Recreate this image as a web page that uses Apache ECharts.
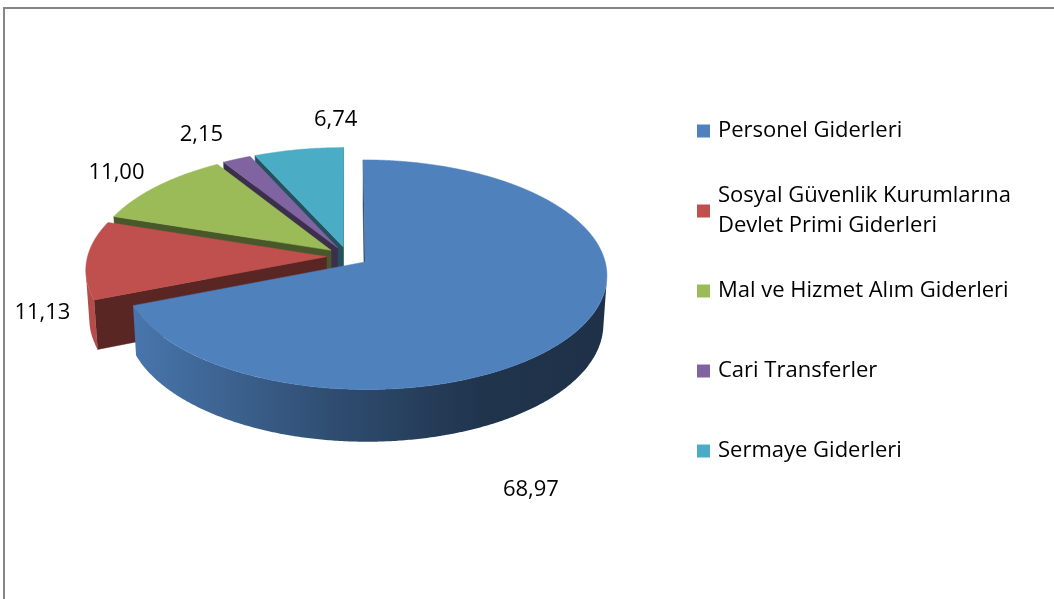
<!DOCTYPE html>
<html>
<head>
<meta charset="utf-8">
<script src="https://cdn.jsdelivr.net/npm/echarts@6/dist/echarts.min.js"></script>
<style>
  html, body { margin: 0; padding: 0; background: #fff; }
  #chart { width: 1054px; height: 599px; }
</style>
</head>
<body>
<div id="chart"></div>
<script>
// chart data
const names = [
    'Personel Giderleri',
    'Sosyal Güvenlik Kurumlarına\nDevlet Primi Giderleri',
    'Mal ve Hizmet Alım Giderleri',
    'Cari Transferler',
    'Sermaye Giderleri'
];
const values = [68.97, 11.13, 11.00, 2.15, 6.74];
const colors = ['#4f81bd', '#c0504d', '#9bbb59', '#8064a2', '#4bacc6'];

// 3d pie projection settings (pie radius = 1 in world units)
const CX = 347.5, CY = 256.4;
const FOCAL = 1916, DIST = 8.02;
const TILT = 28 * Math.PI / 180;
const SN = Math.sin(TILT), CS = Math.cos(TILT);
const THICK = 0.231;
const EXPLODE = 0.088;
const LABEL_R = 1.28;
// small pixel nudges so the labels sit where excel put them
const labelNudge = [[-112, 139], [23, 52], [4, 3], [-10, -2], [48, -6]];

const CAM_V = -DIST * CS;
const rad = d => d * Math.PI / 180;

function proj(u, v, w) {
    const Y = v * SN + w * CS;
    const Z = DIST + v * CS - w * SN;
    return [CX + FOCAL * u / Z, CY - FOCAL * Y / Z];
}

function shade(hex, f) {
    const n = parseInt(hex.slice(1), 16);
    const r = Math.round(((n >> 16) & 255) * f);
    const g = Math.round(((n >> 8) & 255) * f);
    const b = Math.round((n & 255) * f);
    return 'rgb(' + r + ',' + g + ',' + b + ')';
}

const total = values.reduce((a, b) => a + b, 0);
let acc = 0;
const slices = values.map(function (v) {
    const a0 = acc / total * 360;
    acc += v;
    const a1 = acc / total * 360;
    const mid = (a0 + a1) / 2;
    return {
        a0: a0, a1: a1, mid: mid,
        ex: EXPLODE * Math.sin(rad(mid)),
        ev: EXPLODE * Math.cos(rad(mid))
    };
});

// farthest slice gets drawn first
const order = slices.map((s, i) => i)
    .sort((a, b) => (slices[b].ev + Math.cos(rad(slices[b].mid))) - (slices[a].ev + Math.cos(rad(slices[a].mid))));
const zOf = [];
order.forEach((idx, k) => { zOf[idx] = 2 + k; });

function arc(s, t0, t1, w) {
    const pts = [];
    const n = Math.max(2, Math.ceil((t1 - t0) / 0.5));
    for (let k = 0; k <= n; k++) {
        const t = rad(t0 + (t1 - t0) * k / n);
        pts.push(proj(s.ex + Math.sin(t), s.ev + Math.cos(t), w));
    }
    return pts;
}

function sideVisible(s, t) {
    const a = rad(t);
    return Math.sin(a) * (-s.ex - Math.sin(a)) + Math.cos(a) * (CAM_V - s.ev - Math.cos(a)) > 0;
}

function renderSlice(params, api) {
    const i = params.seriesIndex;
    const s = slices[i];
    const base = colors[i];
    const wallColor = shade(base, 0.47);
    const children = [];
    const apexTop = proj(s.ex, s.ev, 0);
    const apexBot = proj(s.ex, s.ev, -THICK);

    // radial walls
    [[s.a0, 1], [s.a1, -1]].forEach(function (item) {
        const a = rad(item[0]);
        const nu = -item[1] * Math.cos(a), nv = item[1] * Math.sin(a);
        if (nu * (0 - s.ex) + nv * (CAM_V - s.ev) <= 0) return;
        const rt = proj(s.ex + Math.sin(a), s.ev + Math.cos(a), 0);
        const rb = proj(s.ex + Math.sin(a), s.ev + Math.cos(a), -THICK);
        children.push({
            type: 'polygon', z2: 1,
            shape: { points: [apexTop, rt, rb, apexBot] },
            style: { fill: wallColor, stroke: wallColor, lineWidth: 0.5 }
        });
    });

    // outer curved side, only the part facing us
    let t0 = null, t1 = null;
    for (let t = s.a0; t <= s.a1 + 1e-9; t += 0.25) {
        if (sideVisible(s, t)) {
            if (t0 === null) t0 = t;
            t1 = t;
        }
    }
    if (t0 !== null && t1 > t0) {
        const pts = arc(s, t0, t1, 0).concat(arc(s, t0, t1, -THICK).reverse());
        children.push({
            type: 'polygon', z2: 2,
            shape: { points: pts },
            style: {
                fill: new echarts.graphic.LinearGradient(CX - 240, 0, CX + 260, 0, [
                    { offset: 0, color: shade(base, 0.95) },
                    { offset: 0.45, color: shade(base, 0.6) },
                    { offset: 0.75, color: shade(base, 0.4) },
                    { offset: 1, color: shade(base, 0.38) }
                ], true),
                stroke: null
            }
        });
    }

    // top face
    const top = [apexTop].concat(arc(s, s.a0, s.a1, 0));
    children.push({
        type: 'polygon', z2: 3,
        shape: { points: top },
        style: { fill: base, stroke: base, lineWidth: 0.5 }
    });

    // data label
    const m = rad(s.mid);
    const lp = proj(s.ex + LABEL_R * Math.sin(m), s.ev + LABEL_R * Math.cos(m), 0);
    children.push({
        type: 'text', z2: 10,
        x: lp[0] + labelNudge[i][0],
        y: lp[1] + labelNudge[i][1],
        style: {
            text: api.value(0).toFixed(2).replace('.', ','),
            fill: '#000',
            font: '22px "Open Sans"',
            align: 'center',
            verticalAlign: 'middle'
        }
    });

    return { type: 'group', children: children };
}

const chart = echarts.init(document.getElementById('chart'));

const legends = names.map(function (name, i) {
    const lines = name.split('\n').length;
    const iconY = 131 + i * 80;
    return {
        data: [name],
        left: 697,
        top: iconY - (lines === 2 ? 45 : 15),
        padding: 0,
        icon: 'rect',
        itemWidth: 13,
        itemHeight: 13,
        selectedMode: false,
        textStyle: {
            color: '#000',
            fontFamily: 'Open Sans',
            fontSize: 22,
            lineHeight: 30,
            padding: lines === 2 ? [30, 0, 0, 3] : [0, 0, 0, 3]
        }
    };
});

chart.setOption({
    backgroundColor: '#fff',
    animation: false,
    legend: legends,
    graphic: [{
        type: 'rect',
        silent: true,
        shape: { x: 4, y: 8, width: 1200, height: 800 },
        style: { fill: 'none', stroke: '#868686', lineWidth: 2 }
    }],
    series: names.map(function (name, i) {
        return {
            type: 'custom',
            name: name,
            coordinateSystem: 'none',
            z: zOf[i],
            itemStyle: { color: colors[i] },
            renderItem: renderSlice,
            data: [[values[i]]]
        };
    })
});

window.addEventListener('resize', function () {
    chart.resize();
});
</script>
</body>
</html>
